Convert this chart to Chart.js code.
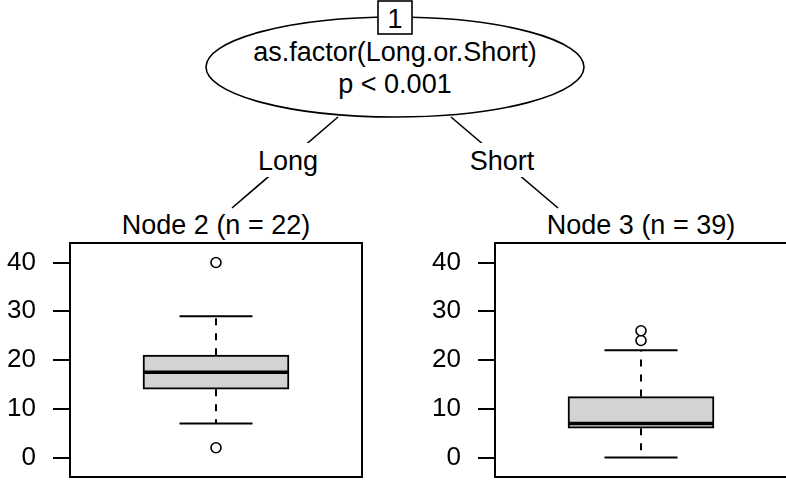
<!DOCTYPE html>
<html>
<head>
<meta charset="utf-8">
<script src="https://cdn.jsdelivr.net/npm/chart.js@4.4.1/dist/chart.umd.min.js"></script>
<style>
  html, body { margin: 0; padding: 0; background: #fff; overflow: hidden; }
  #wrap { position: relative; width: 786px; height: 480px; overflow: hidden; }
  #tree { position: absolute; left: 0; top: 0; }
  canvas { position: absolute; top: 240px; }
  #panel0 { left: 0; }
  #panel1 { left: 425px; }
</style>
</head>
<body>
<div id="wrap">
  <svg id="tree" width="786" height="480"></svg>
  <canvas id="panel0" width="364" height="240"></canvas>
  <canvas id="panel1" width="364" height="240"></canvas>
</div>
<script>
// data
const rootLines = ['as.factor(Long.or.Short)', 'p < 0.001'];
const splitLabels = ['Long', 'Short'];
const nodeNames = ['Node 2', 'Node 3'];
const nodeN = [22, 39];
const yTicks = [0, 10, 20, 30, 40];

const whiskerLow = [7, 0];
const q1 = [14, 6];
const median = [17.5, 7];
const q3 = [21, 12.5];
const whiskerHigh = [29, 22];
const outliers = [[40, 2], [24, 26]];

const FONT = '"Liberation Sans", Arial, Helvetica, sans-serif';
Chart.defaults.font.family = FONT;
Chart.defaults.color = '#000';

// ---- tree part (svg) ----
const svg = document.getElementById('tree');
const NS = 'http://www.w3.org/2000/svg';
function add(tag, attrs, text) {
  const el = document.createElementNS(NS, tag);
  for (const k in attrs) el.setAttribute(k, attrs[k]);
  if (text !== undefined) el.textContent = text;
  svg.appendChild(el);
  return el;
}
const txt = { 'font-family': FONT, 'font-size': 27, 'text-anchor': 'middle', fill: '#000' };

// edges, then white boxes behind the split labels
const edges = [[338, 117, 232, 208], [451, 117, 558, 208]];
const labelX = [288, 502];
edges.forEach((e, i) => {
  add('line', { x1: e[0], y1: e[1], x2: e[2], y2: e[3], stroke: '#000', 'stroke-width': 1.6 });
  add('rect', { x: labelX[i] - 42, y: 143, width: 84, height: 34, fill: '#fff' });
  add('text', Object.assign({ x: labelX[i], y: 170 }, txt), splitLabels[i]);
});

add('ellipse', { cx: 395, cy: 67, rx: 189, ry: 50, fill: '#fff', stroke: '#000', 'stroke-width': 1.6 });
add('text', Object.assign({ x: 395, y: 61 }, txt), rootLines[0]);
add('text', Object.assign({ x: 395, y: 93 }, txt), rootLines[1]);
add('rect', { x: 378, y: 1, width: 34, height: 33, fill: '#fff', stroke: '#000', 'stroke-width': 1.6 });
add('text', Object.assign({ x: 395, y: 28 }, txt), '1');

const nodeX = [216, 641];
nodeNames.forEach((n, i) => {
  add('text', Object.assign({ x: nodeX[i], y: 234 }, txt), n + ' (n = ' + nodeN[i] + ')');
});

// ---- boxplot panels (chart.js) ----
const framePlugin = {
  id: 'frame',
  afterDraw(chart) {
    const a = chart.chartArea, ctx = chart.ctx;
    ctx.save();
    ctx.strokeStyle = '#000';
    ctx.lineWidth = 2;
    ctx.strokeRect(a.left, a.top, a.right - a.left, a.bottom - a.top);
    ctx.restore();
  }
};

function makePanel(id, i) {
  new Chart(document.getElementById(id), {
    type: 'bar',
    data: {
      datasets: [
        {
          type: 'scatter', order: 1,
          data: outliers[i].map(v => ({ x: 0.5, y: v })),
          pointRadius: 5, pointBorderWidth: 1.6,
          pointBackgroundColor: '#fff', pointBorderColor: '#000'
        },
        {
          type: 'line', order: 2,
          data: [{ x: 0.25, y: median[i] }, { x: 0.75, y: median[i] }],
          borderColor: '#000', borderWidth: 3.5, pointRadius: 0
        },
        {
          type: 'line', order: 3, spanGaps: false,
          data: [
            { x: 0.375, y: whiskerLow[i] }, { x: 0.625, y: whiskerLow[i] },
            { x: 0.5, y: null },
            { x: 0.375, y: whiskerHigh[i] }, { x: 0.625, y: whiskerHigh[i] }
          ],
          borderColor: '#000', borderWidth: 2, pointRadius: 0
        },
        {
          type: 'line', order: 4, spanGaps: false,
          data: [
            { x: 0.5, y: q1[i] }, { x: 0.5, y: whiskerLow[i] },
            { x: 0.5, y: null },
            { x: 0.5, y: q3[i] }, { x: 0.5, y: whiskerHigh[i] }
          ],
          borderColor: '#000', borderWidth: 2, borderDash: [7, 8], pointRadius: 0
        },
        {
          type: 'bar', order: 5,
          data: [{ x: 0.5, y: [q1[i], q3[i]] }],
          backgroundColor: '#d3d3d3', borderColor: '#000', borderWidth: 2,
          borderSkipped: false, barThickness: 146
        }
      ]
    },
    options: {
      responsive: false,
      animation: false,
      layout: { autoPadding: false, padding: { top: 3, bottom: 3, left: 0, right: 2 } },
      plugins: { legend: { display: false }, tooltip: { enabled: false } },
      scales: {
        x: { type: 'linear', min: 0, max: 1, offset: false, display: false },
        y: {
          min: -4, max: 44,
          afterBuildTicks: s => { s.ticks = yTicks.map(v => ({ value: v })); },
          afterFit: s => { s.width = 70; s.paddingTop = 0; s.paddingBottom = 0; },
          grid: { drawOnChartArea: false, drawTicks: true, tickLength: 17, color: '#000', lineWidth: 2 },
          border: { display: false },
          ticks: { padding: 17, color: '#000', font: { size: 26 } }
        }
      }
    },
    plugins: [framePlugin]
  });
}

makePanel('panel0', 0);
makePanel('panel1', 1);
</script>
</body>
</html>
